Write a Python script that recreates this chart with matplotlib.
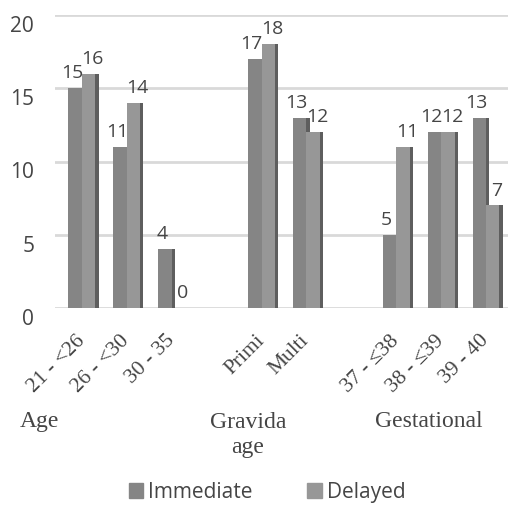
import matplotlib
matplotlib.use("Agg")
import matplotlib.pyplot as plt
from matplotlib.patches import Patch

categories = ["21 - <26", "26 - <30", "30 - 35", "Primi", "Multi", "37 - ≤38", "38 - ≤39", "39 - 40"]
slots = [0, 1, 2, 4, 5, 7, 8, 9]
immediate = [15, 11, 4, 17, 13, 5, 12, 13]
delayed = [16, 14, 0, 18, 12, 11, 12, 7]
groups = ["Age", "Gravida\nage", "Gestational"]
yticks = [0, 5, 10, 15, 20]

W, H = 508, 510
fig = plt.figure(figsize=(W / 100, H / 100), dpi=100)
ax = fig.add_axes([55 / W, 1 - 309 / H, 453 / W, 293 / H])

sans = "Open Sans"
serif = "Liberation Serif"
tc = "#454545"
c_imm = "#858585"
c_del = "#979797"
c_side = "#5e5e5e"
bw = 0.3
sw = 0.07

for i, (s, a, b) in enumerate(zip(slots, immediate, delayed)):
    xi = s - bw / 2
    xd = s + bw / 2
    ax.bar(xi, a, width=bw, color=c_imm, zorder=3)
    ax.bar(xi + bw / 2 + sw / 2, a, width=sw, color=c_side, zorder=3)
    ax.bar(xd, b, width=bw, color=c_del, zorder=4)
    ax.bar(xd + bw / 2 + sw / 2, b, width=sw, color=c_side, zorder=4)
    ax.annotate(str(a), (xi - 0.07, a), xytext=(0, 5), textcoords="offset points",
                ha="center", va="bottom", fontsize=14, family=sans, color=tc)
    ax.annotate(str(b), (xd + 0.09, b), xytext=(0, 5), textcoords="offset points",
                ha="center", va="bottom", fontsize=14, family=sans, color=tc)

ax.set_xlim(-0.6, 9.49)
ax.set_ylim(0, 20)
ax.set_yticks(yticks)
ax.set_yticklabels([str(v) for v in yticks], family=sans, fontsize=15, color=tc, va="top")
ax.tick_params(axis="y", length=0, pad=15)
ax.set_xticks(slots)
ax.set_xticklabels(categories, rotation=45, ha="right", va="center", rotation_mode="anchor",
                   family=serif, fontsize=15.5, color=tc)
ax.tick_params(axis="x", length=0, pad=21)
ax.grid(axis="y", color="#d9d9d9", linewidth=2, zorder=0)
ax.set_axisbelow(True)
for sp in ax.spines.values():
    sp.set_visible(False)

fig.text(20 / W, 1 - 422 / H, groups[0], ha="left", va="center", family=serif, fontsize=17, color=tc)
fig.text(248 / W, 1 - 435 / H, groups[1], ha="center", va="center", family=serif, fontsize=17,
         color=tc, linespacing=1.3)
fig.text(429 / W, 1 - 422 / H, groups[2], ha="center", va="center", family=serif, fontsize=17, color=tc)

handles = [Patch(color=c_imm, label="Immediate"), Patch(color=c_del, label="Delayed")]
fig.legend(handles=handles, loc="center", bbox_to_anchor=(267 / W, 1 - 493 / H), ncol=2,
           frameon=False, prop={"family": sans, "size": 15}, handlelength=0.7, handleheight=0.7,
           columnspacing=2.6, handletextpad=0.25, labelcolor=tc)

fig.savefig("out.png", dpi=100)
